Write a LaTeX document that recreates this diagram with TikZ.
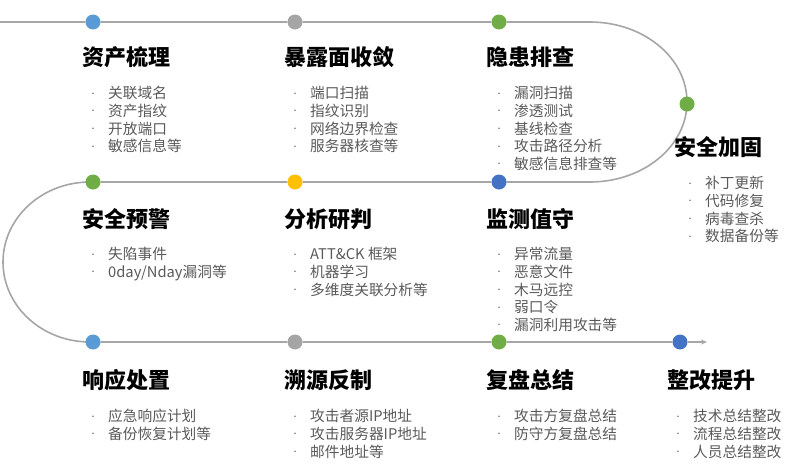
\documentclass[tikz,border=0pt]{standalone}
\usepackage{fontspec}
\setmainfont{Noto Sans CJK SC}
\usetikzlibrary{arrows.meta,backgrounds}
\definecolor{trackgray}{HTML}{A6A6A6}
\definecolor{dotblue}{HTML}{5B9BD5}
\definecolor{dotgray}{HTML}{A5A5A5}
\definecolor{dotgreen}{HTML}{70AD47}
\definecolor{dotgold}{HTML}{FFC000}
\definecolor{dotnavy}{HTML}{4472C4}
\definecolor{itemgray}{HTML}{595959}
\newcommand{\itm}{\rule{0pt}{14pt}\makebox[30pt][c]{\raisebox{2.5pt}{\scriptsize •}}}
\tikzset{
  stage/.style={circle, minimum size=15pt, inner sep=0pt, fill=#1},
  ttl/.style={anchor=base west, inner sep=0pt, font=\fontsize{22}{24}\selectfont\bfseries, text=black},
  lst/.style={anchor=north west, inner sep=0pt, align=left, font=\fontsize{14.7}{17.6}\selectfont, text=itemgray},
  track/.style={draw=trackgray, line width=1.6pt}
}
\begin{document}
\begin{tikzpicture}[x=1pt,y=-1pt]
\useasboundingbox (0,0) rectangle (789,474);
% stage dots
\node[stage=dotblue] (sid0) at (93,22){};
\node[stage=dotgray] (sid1) at (295,22){};
\node[stage=dotgreen] (sid2) at (499,22){};
\node[stage=dotgreen] (sid3) at (687,104){};
\node[stage=dotgreen] (sid4) at (93,182){};
\node[stage=dotgold] (sid5) at (295,182){};
\node[stage=dotnavy] (sid6) at (499,182){};
\node[stage=dotblue] (sid7) at (93,342){};
\node[stage=dotgray] (sid8) at (295,342){};
\node[stage=dotgreen] (sid9) at (499,342){};
\node[stage=dotnavy] (sid10) at (680,342){};
\coordinate (pstart) at (0,22);
\coordinate (pturn1) at (590,22);
\coordinate (pturn2) at (90,182);
\coordinate (pend) at (707,342);
\begin{scope}[on background layer]
\draw[track] (pstart) -- (sid0) -- (sid1) -- (sid2) -- (pturn1)
  arc[start angle=270, end angle=450, x radius=97, y radius=80]
  -- (sid6) -- (sid5) -- (sid4) -- (pturn2)
  arc[start angle=270, end angle=90, x radius=87, y radius=80]
  -- (sid7) -- (sid8) -- (sid9) -- (sid10);
\draw[track, -{Stealth[length=6pt,width=5pt]}] (sid10) -- (pend);
\end{scope}
% titles
\node[ttl] (ttl0) at (82,65) {资产梳理};
\node[ttl] (ttl1) at (284,65) {暴露面收敛};
\node[ttl] (ttl2) at (486,65) {隐患排查};
\node[ttl] (ttl3) at (674,155) {安全加固};
\node[ttl] (ttl4) at (82,227) {安全预警};
\node[ttl] (ttl5) at (284,227) {分析研判};
\node[ttl] (ttl6) at (486,227) {监测值守};
\node[ttl] (ttl7) at (82,388) {响应处置};
\node[ttl] (ttl8) at (284,388) {溯源反制};
\node[ttl] (ttl9) at (486,388) {复盘总结};
\node[ttl] (ttl10) at (667,388) {整改提升};
% item lists
\node[lst] (lst0) at (78,84.6) {\itm 关联域名\\\itm 资产指纹\\\itm 开放端口\\\itm 敏感信息等};
\node[lst] (lst1) at (280,84.6) {\itm 端口扫描\\\itm 指纹识别\\\itm 网络边界检查\\\itm 服务器核查等};
\node[lst] (lst2) at (484,84.6) {\itm 漏洞扫描\\\itm 渗透测试\\\itm 基线检查\\\itm 攻击路径分析\\\itm 敏感信息排查等};
\node[lst] (lst3) at (675,174.6) {\itm 补丁更新\\\itm 代码修复\\\itm 病毒查杀\\\itm 数据备份等};
\node[lst] (lst4) at (78,245.6) {\itm 失陷事件\\\itm 0day/Nday漏洞等};
\node[lst] (lst5) at (280,245.6) {\itm ATT\&CK 框架\\\itm 机器学习\\\itm 多维度关联分析等};
\node[lst] (lst6) at (484,245.6) {\itm 异常流量\\\itm 恶意文件\\\itm 木马远控\\\itm 弱口令\\\itm 漏洞利用攻击等};
\node[lst] (lst7) at (78,407.6) {\itm 应急响应计划\\\itm 备份恢复计划等};
\node[lst] (lst8) at (280,407.6) {\itm 攻击者源IP地址\\\itm 攻击服务器IP地址\\\itm 邮件地址等};
\node[lst] (lst9) at (484,407.6) {\itm 攻击方复盘总结\\\itm 防守方复盘总结};
\node[lst] (lst10) at (663,407.6) {\itm 技术总结整改\\\itm 流程总结整改\\\itm 人员总结整改};
\end{tikzpicture}
\end{document}
